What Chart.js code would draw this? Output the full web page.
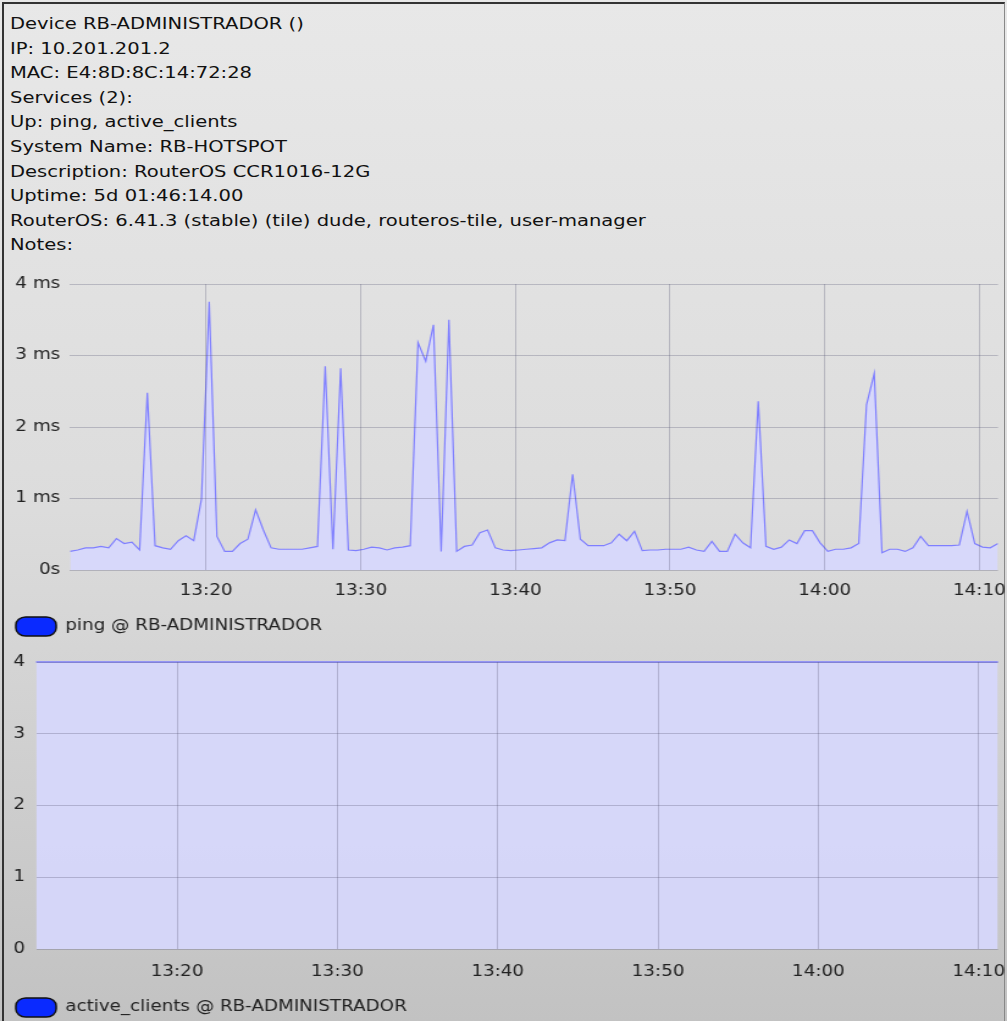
<!DOCTYPE html>
<html>
<head>
<meta charset="utf-8">
<script src="https://cdn.jsdelivr.net/npm/chart.js@4/dist/chart.umd.min.js"></script>
<style>
  html, body { margin:0; padding:0; width:1007px; height:1021px; overflow:hidden; }
  body { background: linear-gradient(to bottom, #e8e8e8 0%, #dcdcdc 50%, #c2c2c2 100%); position:relative; font-family:"DejaVu Sans", sans-serif; }
  #frame { position:absolute; left:2px; top:2px; width:1003px; height:1030px; border-left:2px solid #333; border-top:2px solid #333; border-right:1px solid #888; box-sizing:border-box; }
  #info { position:absolute; left:10px; top:12px; font-size:16px; line-height:24.6px; color:#111; white-space:pre; transform:scaleX(1.2206); transform-origin:0 0; }
  canvas { position:absolute; left:0; transform:scaleX(1.2206); transform-origin:0 0; }
  #c1 { top:267px; }
  #c2 { top:644px; }
</style>
</head>
<body>
<div id="frame"></div>
<div id="info"></div>
<canvas id="c1" width="825" height="379"></canvas>
<canvas id="c2" width="825" height="383"></canvas>
<script>
const infoLines = [
  "Device RB-ADMINISTRADOR ()",
  "IP: 10.201.201.2",
  "MAC: E4:8D:8C:14:72:28",
  "Services (2):",
  "Up: ping, active_clients",
  "System Name: RB-HOTSPOT",
  "Description: RouterOS CCR1016-12G",
  "Uptime: 5d 01:46:14.00",
  "RouterOS: 6.41.3 (stable) (tile) dude, routeros-tile, user-manager",
  "Notes:"
];

// sample times: minutes after 13:00, one sample every 30 s
const startMinute = 11.2;
const stepMinutes = 0.5;

const timeTicks = [20, 30, 40, 50, 60, 70];
const timeTickLabels = ["13:20", "13:30", "13:40", "13:50", "14:00", "14:10"];
const pingTickLabels = ["0s", "1 ms", "2 ms", "3 ms", "4 ms"];
const clientTickLabels = ["0", "1", "2", "3", "4"];

// ping (ms)
const pingValues = [
  0.26,0.28,0.31,0.31,0.33,0.31,0.44,0.37,0.39,0.28,
  2.48,0.34,0.31,0.29,0.41,0.48,0.41,0.99,3.75,0.47,
  0.26,0.26,0.37,0.43,0.84,0.56,0.31,0.29,0.29,0.29,
  0.29,0.31,0.33,2.85,0.29,2.82,0.28,0.27,0.29,0.32,
  0.31,0.28,0.31,0.32,0.34,3.18,2.92,3.43,0.26,3.50,
  0.26,0.33,0.35,0.52,0.56,0.31,0.28,0.27,0.28,0.29,
  0.30,0.31,0.38,0.42,0.41,1.34,0.43,0.34,0.34,0.34,
  0.38,0.50,0.41,0.54,0.27,0.28,0.28,0.29,0.29,0.29,
  0.32,0.28,0.26,0.40,0.26,0.26,0.50,0.38,0.31,2.36,
  0.33,0.29,0.32,0.42,0.37,0.55,0.55,0.38,0.26,0.29,
  0.29,0.31,0.37,2.31,2.75,0.24,0.29,0.29,0.26,0.31,
  0.47,0.34,0.34,0.34,0.34,0.35,0.82,0.37,0.32,0.31,
  0.37
];

// active clients
const clientValues = [
  4,4,4,4,4,4,4,4,4,4,4,4,4,4,4,4,4,4,4,4,
  4,4,4,4,4,4,4,4,4,4,4,4,4,4,4,4,4,4,4,4,
  4,4,4,4,4,4,4,4,4,4,4,4,4,4,4,4,4,4,4,4,
  4,4,4,4,4,4,4,4,4,4,4,4,4,4,4,4,4,4,4,4,
  4,4,4,4,4,4,4,4,4,4,4,4,4,4,4,4,4,4,4,4,
  4,4,4,4,4,4,4,4,4,4,4,4,4,4,4,4,4,4,4,4,
  4
];

const pingLabel = "ping @ RB-ADMINISTRADOR";
const clientLabel = "active_clients @ RB-ADMINISTRADOR";

document.getElementById('info').textContent = infoLines.join("\n");

const toPoints = vals => vals.map((v, i) => ({ x: startMinute + i * stepMinutes, y: v }));
const xMin = startMinute;
const xMax = startMinute + (pingValues.length - 1) * stepMinutes;

const FONT = { family: "DejaVu Sans", size: 15 };
const TEXT = "#222";
const GRID = "rgba(85,85,115,0.3)";
const LINE = "#7f7fff";
const FILL = "rgba(214,215,252,0.93)";

function makeChart(id, label, values, yTickLabels, opts) {
  return new Chart(document.getElementById(id), {
    type: 'line',
    data: {
      datasets: [{
        label: label,
        data: toPoints(values),
        borderColor: LINE,
        borderWidth: opts.lineWidth,
        backgroundColor: FILL,
        fill: 'origin',
        pointRadius: 0,
        tension: 0,
        clip: opts.clip
      }]
    },
    options: {
      responsive: false,
      animation: false,
      devicePixelRatio: 1,
      layout: { padding: { top: opts.padTop, right: 7.4, left: 0, bottom: 0 } },
      plugins: {
        tooltip: { enabled: false },
        legend: {
          display: true,
          position: 'bottom',
          align: 'start',
          labels: {
            font: FONT,
            color: TEXT,
            boxWidth: 33,
            boxHeight: 19,
            padding: 13,
            useBorderRadius: true,
            borderRadius: 8,
            generateLabels: chart => chart.data.datasets.map((ds, i) => ({
              text: ds.label,
              fillStyle: '#0a2aff',
              strokeStyle: '#111',
              lineWidth: 1.5,
              fontColor: TEXT,
              borderRadius: 8,
              datasetIndex: i,
              hidden: false
            }))
          }
        }
      },
      scales: {
        x: {
          type: 'linear',
          min: xMin,
          max: xMax,
          afterBuildTicks: s => { s.ticks = timeTicks.map(v => ({ value: v })); },
          afterFit: s => { s.height = opts.xHeight; },
          ticks: {
            autoSkip: false,
            maxRotation: 0,
            padding: 0,
            font: FONT,
            color: TEXT,
            callback: v => { const k = timeTicks.indexOf(v); return k >= 0 ? timeTickLabels[k] : ''; }
          },
          grid: { color: GRID, drawTicks: true, tickLength: opts.xPad, tickColor: 'rgba(0,0,0,0)', z: 1, lineWidth: 1 },
          border: { display: false }
        },
        y: {
          min: 0,
          max: 4,
          afterBuildTicks: s => { s.ticks = yTickLabels.map((t, i) => ({ value: i })); },
          afterFit: s => { s.width = opts.yWidth; },
          ticks: {
            padding: opts.yPad,
            font: FONT,
            color: TEXT,
            callback: v => yTickLabels[v]
          },
          grid: { color: GRID, drawTicks: false, z: 1, lineWidth: 1 },
          border: { display: false }
        }
      }
    }
  });
}

makeChart('c1', pingLabel, pingValues, pingTickLabels,
  { padTop: 15, xHeight: 34, yWidth: 57.35, xPad: 12, yPad: 8, lineWidth: 1.2, clip: undefined });
makeChart('c2', clientLabel, clientValues, clientTickLabels,
  { padTop: 15, xHeight: 36, yWidth: 29.5, xPad: 14, yPad: 9, lineWidth: 1.6, clip: false });
</script>
</body>
</html>
